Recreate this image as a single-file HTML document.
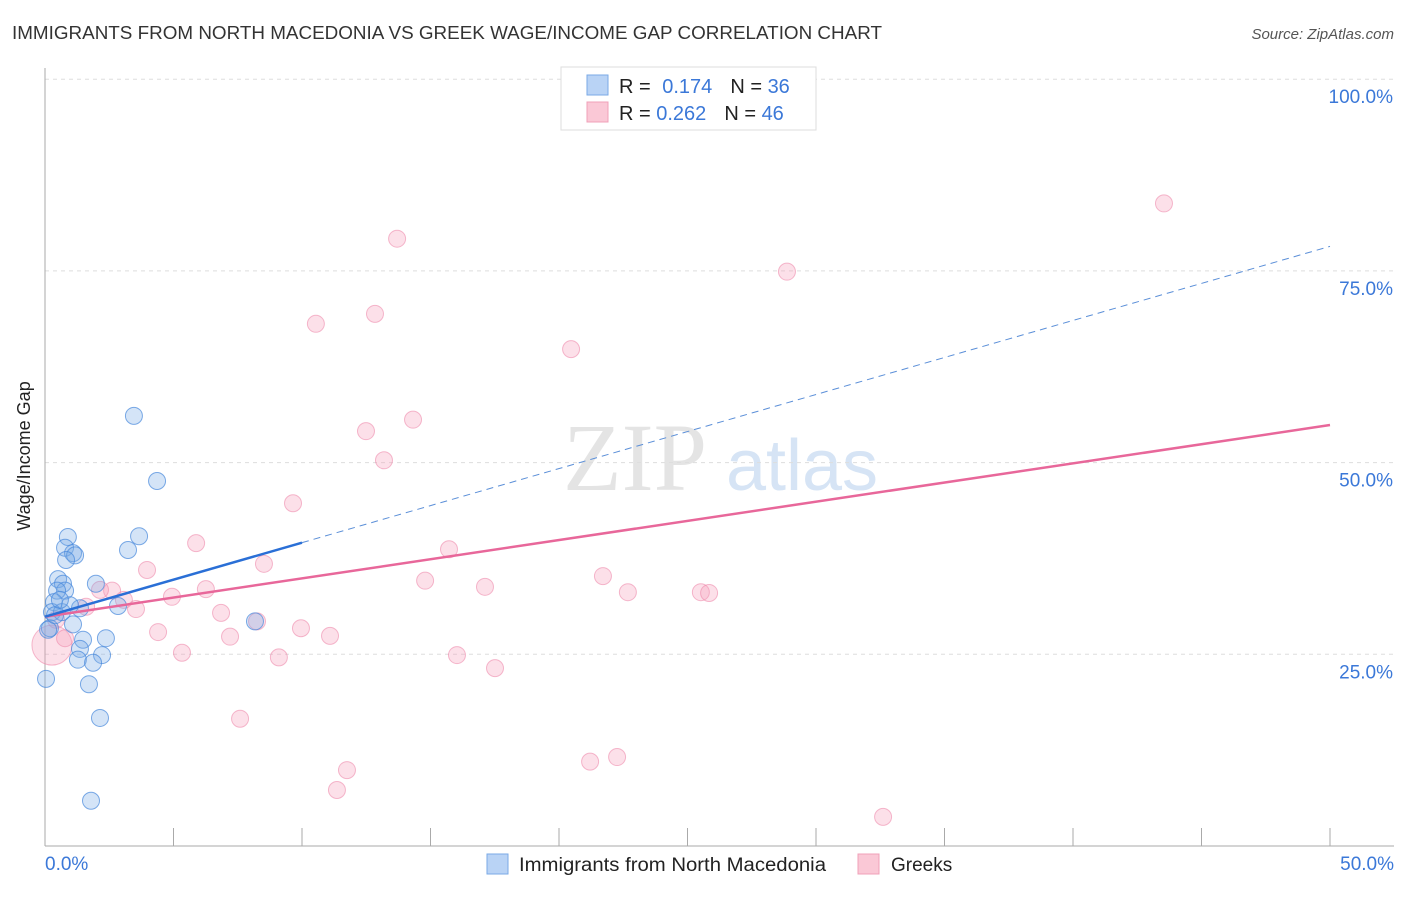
<!DOCTYPE html>
<html><head><meta charset="utf-8"><style>
body{margin:0;background:#fff;font-family:"Liberation Sans",sans-serif;}
</style></head><body>
<svg id="chart" width="1406" height="892" xmlns="http://www.w3.org/2000/svg" font-family="Liberation Sans, sans-serif">
<text x="12" y="39" font-size="18" fill="#333" textLength="870" lengthAdjust="spacingAndGlyphs">IMMIGRANTS FROM NORTH MACEDONIA VS GREEK WAGE/INCOME GAP CORRELATION CHART</text>
<text x="1394" y="39" font-size="15" fill="#555" font-style="italic" text-anchor="end">Source: ZipAtlas.com</text>
<text x="30" y="456" font-size="18" fill="#222" text-anchor="middle" transform="rotate(-90 30 456)">Wage/Income Gap</text>
<g><text x="635" y="490" font-size="96" fill="#e4e4e4" font-family="Liberation Serif, serif" text-anchor="middle">ZIP</text><text x="802" y="490" font-size="72" fill="#d6e4f5" text-anchor="middle">atlas</text></g>
<g id="grid"></g><g id="axes"></g><g id="marks"></g>
<g>
<rect x="561" y="67" width="255" height="63" fill="#fff" stroke="#ddd"/>
<rect x="587" y="75" width="21" height="20" fill="#b9d3f5" stroke="#7aaae6"/>
<rect x="587" y="102" width="21" height="20" fill="#fac8d6" stroke="#f0a0b8"/>
<text x="619" y="93" font-size="20" fill="#222">R = <tspan fill="#3b78d8" dx="6">0.174</tspan><tspan dx="18" fill="#222">N = </tspan><tspan fill="#3b78d8">36</tspan></text>
<text x="619" y="120" font-size="20" fill="#222">R = <tspan fill="#3b78d8">0.262</tspan><tspan dx="18" fill="#222">N = </tspan><tspan fill="#3b78d8">46</tspan></text>
</g>
<g>
<rect x="487" y="854" width="21" height="20" fill="#b9d3f5" stroke="#7aaae6"/>
<text x="519" y="871" font-size="19" fill="#222" textLength="307" lengthAdjust="spacingAndGlyphs">Immigrants from North Macedonia</text>
<rect x="858" y="854" width="21" height="20" fill="#fac8d6" stroke="#f0a0b8"/>
<text x="891" y="871" font-size="19" fill="#222">Greeks</text>
</g>
</svg>
<script>
const yTicks=[25,50,75,100];
const yTickLabels=["25.0%","50.0%","75.0%","100.0%"];
const xTicks=[0,5,10,15,20,25,30,35,40,45,50];
const blueX=[3.46,4.36,0.89,3.66,0.78,1.09,3.23,1.17,0.51,0.70,1.98,0.78,0.47,0.35,0.27,0.66,1.36,2.84,0.19,1.09,1.48,2.37,1.36,2.22,1.28,1.87,1.71,0.04,2.14,1.79,8.17,0.12,0.39,0.97,0.58,0.82];
const blueY=[56.1,47.6,40.3,40.4,38.9,38.2,38.6,37.9,34.8,34.2,34.2,33.3,33.3,31.8,30.5,30.5,31.0,31.3,28.4,28.9,26.9,27.1,25.7,24.9,24.3,23.9,21.1,21.8,16.7,5.9,29.3,28.2,30.1,31.4,32.1,37.3];
const pinkX=[43.54,13.70,28.87,12.84,10.54,20.47,14.32,12.49,13.19,9.65,15.72,5.88,8.52,3.97,21.71,14.79,17.12,6.26,22.68,2.61,25.52,25.84,4.94,3.07,3.54,1.60,6.85,9.96,4.40,11.09,7.20,8.25,5.33,9.10,16.03,17.51,7.59,11.75,11.36,21.21,22.26,32.61,0.27,0.78,2.14,0.43];
const pinkY=[83.8,79.2,74.9,69.4,68.1,64.8,55.6,54.1,50.3,44.7,38.7,39.5,36.8,36.0,35.2,34.6,33.8,33.5,33.1,33.3,33.1,33.0,32.5,32.1,30.9,31.2,30.4,28.4,27.9,27.4,27.3,29.3,25.2,24.6,24.9,23.2,16.6,9.9,7.3,11.0,11.6,3.8,26.2,27.1,33.4,29.5];
const blueLine=[29.9,39.56,78.2]; // y at x=0, x=10, x=50
const pinkLine=[29.9,54.9]; // y at x=0, x=50
const NS="http://www.w3.org/2000/svg";
const X=v=>45+v/50*1285, Y=v=>846-v/25*191.7;
function mk(parent,tag,attrs){const e=document.createElementNS(NS,tag);for(const k in attrs)e.setAttribute(k,attrs[k]);document.getElementById(parent).appendChild(e);return e;}
yTicks.forEach((t,i)=>{
 const g=mk('grid','line',{x1:45,x2:1394,y1:Y(t),y2:Y(t),stroke:'#ddd','stroke-dasharray':'4,4'});
 
 
 const l=mk('axes','text',{x:1393,y:Y(t)+24,'font-size':19,fill:'#3b78d8','text-anchor':'end'});l.textContent=yTickLabels[i];
 
 
});
const ax=mk('axes','line',{x1:45,x2:45,y1:68,y2:846,stroke:'#aaa'});


const bx=mk('axes','line',{x1:45,x2:1394,y1:846,y2:846,stroke:'#aaa'});


xTicks.forEach(t=>{const e=mk('axes','line',{x1:X(t),x2:X(t),y1:828,y2:846,stroke:'#aaa'});
 
 });
const xl0=mk('axes','text',{x:45,y:870,'font-size':19,fill:'#3b78d8'});xl0.textContent='0.0%';


const xl1=mk('axes','text',{x:1394,y:870,'font-size':19,fill:'#3b78d8','text-anchor':'end'});xl1.textContent='50.0%';


pinkX.forEach((x,i)=>{const c=mk('marks','circle',{cx:X(x),cy:Y(pinkY[i]),r:i==42?20:8.5,fill:'rgba(246,160,188,0.32)',stroke:'rgba(236,130,165,0.55)'});
 
 });
blueX.forEach((x,i)=>{const c=mk('marks','circle',{cx:X(x),cy:Y(blueY[i]),r:8.5,fill:'rgba(120,170,230,0.32)',stroke:'rgba(70,135,220,0.7)'});
 
 });
const pl=mk('marks','line',{x1:X(0),y1:Y(pinkLine[0]),x2:X(50),y2:Y(pinkLine[1]),stroke:'#e8679a','stroke-width':2.5});


const bl=mk('marks','line',{x1:X(0),y1:Y(blueLine[0]),x2:X(10),y2:Y(blueLine[1]),stroke:'#2a6fd6','stroke-width':2.5});


const bd=mk('marks','line',{x1:X(10),y1:Y(blueLine[1]),x2:X(50),y2:Y(blueLine[2]),stroke:'#5b8fd8','stroke-width':1,'stroke-dasharray':'7,5'});


</script>
</body></html>
